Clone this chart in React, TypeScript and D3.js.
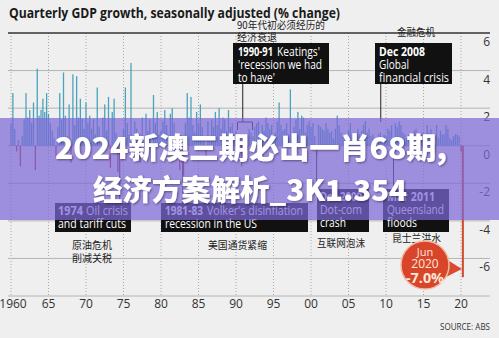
import React from 'react';
import * as d3 from 'd3';

const startYear = 1960;
// Quarterly GDP growth (% change), 1960 Q1 .. 2020 Q2
const growth: number[] = [
  1.2, 2.8, 0.9, -0.3,
  0.3, -1.1, 0.5, 1.4,
  2.8, 1.5, 1.9, 1.2,
  2.3, -1.3, 4.1, 1.6,
  1.9, 2.5, 1.8, 2.8,
  1.7, 1.2, 0.8, 0.4,
  -0.6, 1.0, 2.8, 1.4,
  3.9, 1.6, 0.5, 2.2,
  -0.9, 3.8, 1.1, 3.7,
  1.5, 2.5, 1.4, 0.9,
  2.3, 1.2, 1.6, 0.9,
  1.4, 0.6, 3.1, 1.0,
  0.4, 1.5, 2.2, 0.8,
  2.6, -1.2, 1.8, 2.5,
  0.7, -1.4, 0.3, -0.8,
  0.9, 3.1, 1.2, 0.6,
  4.4, -0.5, 1.3, 0.9,
  0.4, -0.9, 1.5, 0.2,
  1.7, 0.8, 1.4, -0.5,
  2.7, 1.2, 1.8, 0.6,
  0.8, 1.3, 1.9, 1.1,
  0.5, 1.7, 2.0, 1.2,
  0.2, -0.6, -1.3, -0.9,
  -1.6, 1.2, 2.8, 1.5,
  2.6, 1.1, 0.7, 1.8,
  1.2, 2.2, 1.0, 0.4,
  -0.6, 1.3, 0.3, 1.4,
  1.0, 1.8, 1.1, 2.0,
  0.9, 1.5, 1.4, 0.8,
  1.9, 1.0, 1.2, 0.6,
  0.8, -0.3, 0.2, -1.1,
  -0.4, 0.3, -0.2, 0.9,
  0.7, 0.5, 1.0, 1.2,
  1.3, 0.6, 1.1, 0.8,
  1.5, 1.2, 0.9, 1.1,
  0.4, 0.7, 1.3, 2.3,
  1.1, 0.8, 0.9, 1.2,
  0.6, 3.0, 0.3, 1.0,
  1.4, 1.8, 0.9, 1.6,
  1.5, 0.7, 1.1, 1.3,
  1.0, 1.2, 0.5, -0.5,
  1.1, 1.0, 0.9, 0.8,
  1.2, 0.9, 0.7, 0.8,
  0.4, 0.9, 1.6, 1.1,
  0.7, 0.5, 0.3, 0.6,
  0.8, 1.2, 0.6, 0.4,
  0.5, 0.9, 0.6, 0.8,
  1.1, 1.3, 0.7, 0.9,
  0.5, 0.6, 0.1, -0.7,
  0.6, 0.7, 0.4, 0.6,
  0.5, 0.9, 0.8, 1.1,
  -0.6, 1.2, 1.0, 1.3,
  1.1, 0.7, 0.6, 0.4,
  0.6, 0.5, 0.6, 0.8,
  0.9, 0.5, 0.4, 0.6,
  0.7, 0.2, 1.1, 0.7,
  0.9, 0.6, -0.4, 1.1,
  0.4, 0.8, 0.6, 0.6,
  1.1, 0.9, 0.4, 0.3,
  0.5, 0.6, 0.6, 0.5,
  -0.3, -7.0,
];

const xTickYears = [1960, 1965, 1970, 1975, 1980, 1985, 1990, 1995, 2000, 2005, 2010, 2015, 2020];
const xTickLabels = ['1960', '65', '70', '75', '80', '85', '90', '95', '00', '05', '10', '15', '20'];
const yTicks = [6, 4, 2, 0, -2, -4, -6];

const titleText = 'Quarterly GDP growth, seasonally adjusted (% change)';
const watermark1 = '2024新澳三期必出一肖68期,';
const watermark2 = '经济方案解析_3K1.354';

const W = 499;
const H = 338;
const FONT = "'Open Sans', 'Noto Sans', sans-serif";
const CJK = "'Noto Sans CJK SC', sans-serif";

type Seg = { t: string; x: number; w: number; bold?: boolean };
type Line = { b: number; segs: Seg[] };
type Box = { x: number; y: number; w: number; h: number; lines: Line[] };

export default function App() {
  const x = d3.scaleLinear().domain([1960, 2020]).range([11, 461]);
  const y = d3.scaleLinear().domain([-8, 6]).range([296, 33]);
  const y0 = y(0);

  const bars = growth.map((v, i) => ({ v, t: startYear + i * 0.25 }));

  const boxes: Box[] = [
    { x: 233, y: 43, w: 96, h: 41, lines: [
      { b: 56, segs: [{ t: '1990-91', x: 238, w: 35, bold: true }, { t: "Keatings'", x: 277, w: 43 }] },
      { b: 69, segs: [{ t: "'recession we had", x: 238, w: 84 }] },
      { b: 82, segs: [{ t: "to have'", x: 238, w: 37 }] },
    ] },
    { x: 375, y: 43, w: 77, h: 41, lines: [
      { b: 56, segs: [{ t: 'Dec 2008', x: 379, w: 46, bold: true }] },
      { b: 69, segs: [{ t: 'Global', x: 379, w: 30 }] },
      { b: 82, segs: [{ t: 'financial crisis', x: 379, w: 70 }] },
    ] },
    { x: 55, y: 203, w: 76, h: 29, lines: [
      { b: 215, segs: [{ t: '1974', x: 58, w: 25, bold: true }, { t: 'Oil crisis', x: 86, w: 42 }] },
      { b: 228, segs: [{ t: 'and tariff cuts', x: 58, w: 68 }] },
    ] },
    { x: 161, y: 203, w: 147, h: 29, lines: [
      { b: 215, segs: [{ t: '1981-83', x: 165, w: 38, bold: true }, { t: "Volker's disinflation", x: 207, w: 96 }] },
      { b: 228, segs: [{ t: 'recession in the US', x: 165, w: 92 }] },
    ] },
    { x: 317, y: 189, w: 52, h: 43, lines: [
      { b: 201, segs: [{ t: 'Dec 2000', x: 320, w: 42, bold: true }] },
      { b: 214, segs: [{ t: 'Dot-com', x: 320, w: 42 }] },
      { b: 227, segs: [{ t: 'crash', x: 320, w: 26 }] },
    ] },
    { x: 383, y: 189, w: 66, h: 43, lines: [
      { b: 201, segs: [{ t: 'Mar 2011', x: 387, w: 48, bold: true }] },
      { b: 214, segs: [{ t: 'Queensland', x: 387, w: 57 }] },
      { b: 227, segs: [{ t: 'floods', x: 387, w: 30 }] },
    ] },
  ];

  const cnNotes = [
    { t: '90年代初必须经历的', x: 237, b: 29, w: 88 },
    { t: '经济衰退', x: 237, b: 41, w: 40 },
    { t: '金融危机', x: 397, b: 36, w: 38 },
    { t: '原油危机', x: 72, b: 249, w: 40 },
    { t: '削减关税', x: 72, b: 262, w: 40 },
    { t: '美国通货紧缩', x: 208, b: 249, w: 59 },
    { t: '互联网泡沫', x: 317, b: 247, w: 48 },
    { t: '昆士兰洪水', x: 392, b: 242, w: 49 },
  ];

  const pointers = [
    { xv: 1990.9, y1: 84, y2: 122 },
    { xv: 2009.3, y1: 84, y2: 122 },
    { xv: 1974.5, y1: 203, y2: 152 },
    { xv: 1982.9, y1: 203, y2: 152 },
    { xv: 2000.75, y1: 189, y2: 152 },
    { xv: 2011.0, y1: 189, y2: 152 },
  ];

  return (
    <svg width={W} height={H} style={{ position: 'absolute', left: 0, top: 0, display: 'block' }}>
      <defs>
        <filter id="shadow" x="-5%" y="-20%" width="110%" height="140%">
          <feDropShadow dx="1" dy="1" stdDeviation="1" floodColor="#000" floodOpacity="0.45" />
        </filter>
      </defs>
      <rect x={0} y={0} width={W} height={H} fill="#efefef" />

      {/* title */}
      <text x={9} y={18} fontFamily={FONT} fontWeight={700} fontSize={15} fill="#1a1a1a"
        textLength={331} lengthAdjust="spacingAndGlyphs">{titleText}</text>

      {/* vertical dotted grid */}
      {xTickYears.map((yr) => (
        <line key={'v' + yr} x1={x(yr)} x2={x(yr)} y1={y(6)} y2={y(-8)} stroke="#a8a8a8" strokeWidth={1} strokeDasharray="1,2" />
      ))}
      {/* horizontal grid */}
      {yTicks.filter((t) => t !== 6).map((t) => (
        <line key={'h' + t} x1={8} x2={490} y1={y(t)} y2={y(t)} stroke="#b4b4b4" strokeWidth={1} />
      ))}
      <line x1={8} x2={490} y1={y(-8)} y2={y(-8)} stroke="#b4b4b4" strokeWidth={1} />

      {/* bars */}
      {bars.map((d, i) => {
        const big = d.v < -5;
        const bw = big ? 2 : 1.3;
        return (
          <rect key={'b' + i} x={x(d.t) - bw / 2} width={bw}
            y={Math.min(y(d.v), y0)} height={Math.abs(y(d.v) - y0)}
            fill={d.v >= 0 ? '#4aa3bd' : (big ? '#d24a30' : '#b83a3a')} />
        );
      })}

      {/* top dark rule */}
      <line x1={8} x2={490} y1={y(6)} y2={y(6)} stroke="#333" strokeWidth={1.5} />

      {/* y tick labels */}
      {yTicks.map((t) => (
        <text key={'yl' + t} x={490} y={y(t) + 13} textAnchor="end" fontFamily={FONT} fontSize={12} fill="#333">
          {t}
        </text>
      ))}
      {/* x tick labels */}
      {xTickYears.map((yr, i) => (
        <text key={'xl' + yr} x={x(yr) + (i === 0 ? 2 : 0)} y={308} textAnchor="middle" fontFamily={FONT} fontSize={12} fill="#333">
          {xTickLabels[i]}
        </text>
      ))}

      {/* pointer lines */}
      {pointers.map((p, i) => (
        <line key={'p' + i} x1={x(p.xv)} x2={x(p.xv)} y1={p.y1} y2={p.y2} stroke="#222" strokeWidth={1} />
      ))}
      <path d={`M${x(1990.2)},${130} V${122} H${x(1992.2)} V${130}`} fill="none" stroke="#222" strokeWidth={1} />

      {/* annotation boxes */}
      {boxes.map((bx, i) => (
        <g key={'box' + i}>
          <rect x={bx.x} y={bx.y} width={bx.w} height={bx.h} fill="#111" />
          {bx.lines.map((ln, j) =>
            ln.segs.map((s, k) => (
              <text key={`${j}-${k}`} x={s.x} y={ln.b} fontFamily={FONT} fontSize={12}
                fontWeight={s.bold ? 700 : 400} fill="#fff" textLength={s.w} lengthAdjust="spacingAndGlyphs">
                {s.t}
              </text>
            ))
          )}
        </g>
      ))}

      {/* Chinese notes */}
      {cnNotes.map((n, i) => (
        <text key={'cn' + i} x={n.x} y={n.b} fontFamily={CJK} fontSize={10} fill="#222"
          textLength={n.w} lengthAdjust="spacingAndGlyphs">{n.t}</text>
      ))}

      {/* callout */}
      <polygon points={`446,259 446,277 ${x(2020.25) - 1},269`} fill="#dc4a2e" />
      <circle cx={425} cy={265} r={24} fill="#d9452b" stroke="#f2b9a2" strokeWidth={1.5} />
      <text x={425} y={256} textAnchor="middle" fontFamily={FONT} fontSize={11} fill="#fde8d6">Jun</text>
      <text x={425} y={268} textAnchor="middle" fontFamily={FONT} fontSize={12} fill="#fde8d6">2020</text>
      <text x={425} y={283} textAnchor="middle" fontFamily={FONT} fontSize={15} fontWeight={700} fill="#fde8d6"
        textLength={38} lengthAdjust="spacingAndGlyphs">-7.0%</text>

      {/* source */}
      <text x={490} y={330} textAnchor="end" fontFamily={FONT} fontSize={9.5} fill="#333"
        textLength={50} lengthAdjust="spacingAndGlyphs">SOURCE: ABS</text>

      {/* watermark overlay */}
      <rect x={0} y={118} width={W} height={102} fill="rgb(125,104,215)" fillOpacity={0.72} />
      <g filter="url(#shadow)">
        <text x={55} y={159} fontFamily={CJK} fontWeight={900} fontSize={29} fill="#fff"
          textLength={392} lengthAdjust="spacingAndGlyphs">{watermark1}</text>
        <text x={93} y={201} fontFamily={CJK} fontWeight={900} fontSize={29} fill="#fff"
          textLength={314} lengthAdjust="spacingAndGlyphs">{watermark2}</text>
      </g>
    </svg>
  );
}
